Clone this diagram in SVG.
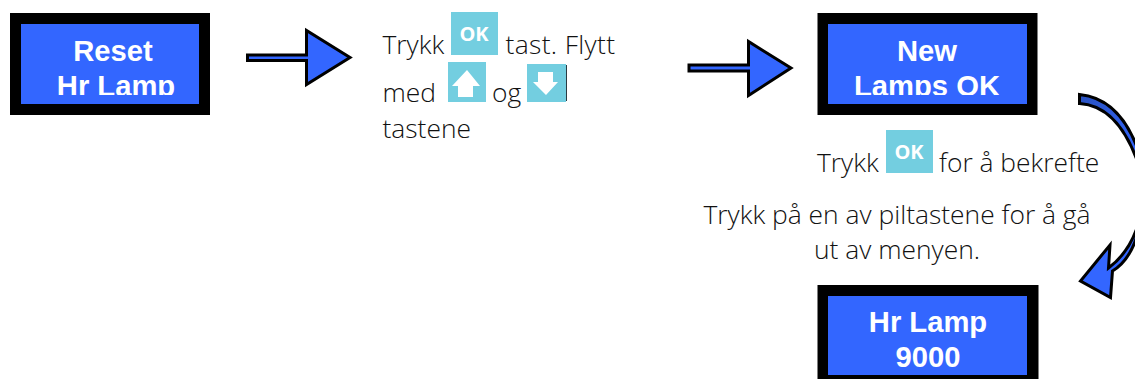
<svg xmlns="http://www.w3.org/2000/svg" width="1135" height="379" viewBox="0 0 1135 379">
<style>
.frame{fill:#000}
.screen{fill:#3366ff}
.lcd{font-family:"Liberation Sans",Arial,sans-serif;font-weight:700;font-size:29.200px;fill:#fff;text-anchor:middle}
.body{font-family:"Open Sans",sans-serif;font-weight:300;font-size:26.400px;fill:#111}
.mid{text-anchor:middle}
.key{fill:#73cee0}
.edge{fill:#2a3a40}
.okt{font-family:"Open Sans",sans-serif;font-weight:700;font-size:20px;fill:#fff;text-anchor:middle}
.arrow{fill:#3366ff;stroke:#000;stroke-width:3;stroke-linejoin:miter}
.glyph{fill:#fff}
</style>
<defs>
<clipPath id="c1"><rect x="21" y="24" width="178" height="71"/></clipPath>
<clipPath id="c2"><rect x="828" y="24" width="199" height="71"/></clipPath>
<linearGradient id="g" x1="0" y1="0" x2="1" y2="1"><stop offset="0" stop-color="#2a52c0"/><stop offset="1" stop-color="#3366ff"/></linearGradient>
</defs>
<g id="connectors">
<path id="arrow-1" class="arrow" d="M247.500 55V60.500H306.500V84.500L350 57.500L306.500 30.500V55Z"/>
<path id="arrow-2" class="arrow" d="M689 65V71H748.500V95.500L791 68L748.500 41.500V65Z"/>
<path id="curve-top" class="arrow" style="fill:url(#g)" d="M1079.500 94.500C1105 97 1124 113 1137 147V160C1124 125 1105 105 1079.500 103.500Z"/>
<path id="curve-bottom" class="arrow" d="M1137 228C1131 245 1122 258 1108.500 268L1110 245L1080.500 281L1110.500 297.500L1112.500 271C1124 264 1132 252 1137 236Z"/>
</g>
<g id="node-reset">
<rect class="frame" x="10" y="13" width="200" height="102"/>
<rect class="screen" x="21" y="24" width="178" height="80"/>
<g clip-path="url(#c1)"><text class="lcd" x="113" y="61">Reset</text><text class="lcd" x="116" y="96">Hr Lamp</text></g>
</g>
<g id="node-instructions-1">
<text class="body" x="382.500" y="54">Trykk</text>
<rect class="key" x="451" y="12" width="47" height="43"/>
<text class="okt" x="474" y="41">OK</text>
<text class="body" x="505.500" y="54" letter-spacing="0.350">tast. Flytt</text>
<text class="body" x="382.500" y="102">med</text>
<rect class="key" x="448" y="62" width="38" height="40"/>
<polygon class="glyph" points="467,70 480,86 473,86 473,97 458,97 458,86 452,86"/>
<text class="body" x="492" y="102">og</text>
<rect class="edge" x="566" y="65" width="1" height="36"/>
<rect class="key" x="527" y="64" width="39" height="38"/>
<polygon class="glyph" points="546,95 558,82 553,82 553,72 538,72 538,82 533,82"/>
<text class="body" x="382.500" y="138">tastene</text>
</g>
<g id="node-new-lamps">
<rect class="frame" x="817.500" y="13" width="220" height="102"/>
<rect class="screen" x="828" y="24" width="199" height="80"/>
<g clip-path="url(#c2)"><text class="lcd" x="927" y="61">New</text><text class="lcd" x="927" y="96">Lamps OK</text></g>
</g>
<g id="node-instructions-2">
<text class="body" x="817" y="172">Trykk</text>
<rect class="key" x="886" y="130" width="47" height="43"/>
<text class="okt" x="909" y="159">OK</text>
<text class="body" x="939" y="172">for å bekrefte</text>
<text class="body mid" x="897" y="224">Trykk på en av piltastene for å gå</text>
<text class="body mid" x="897" y="259">ut av menyen.</text>
</g>
<g id="node-hr-lamp">
<rect class="frame" x="817.500" y="285" width="221" height="94"/>
<rect class="screen" x="828" y="296" width="199" height="79"/>
<text class="lcd" x="928" y="332">Hr Lamp</text>
<text class="lcd" x="928" y="367">9000</text>
</g>
</svg>
